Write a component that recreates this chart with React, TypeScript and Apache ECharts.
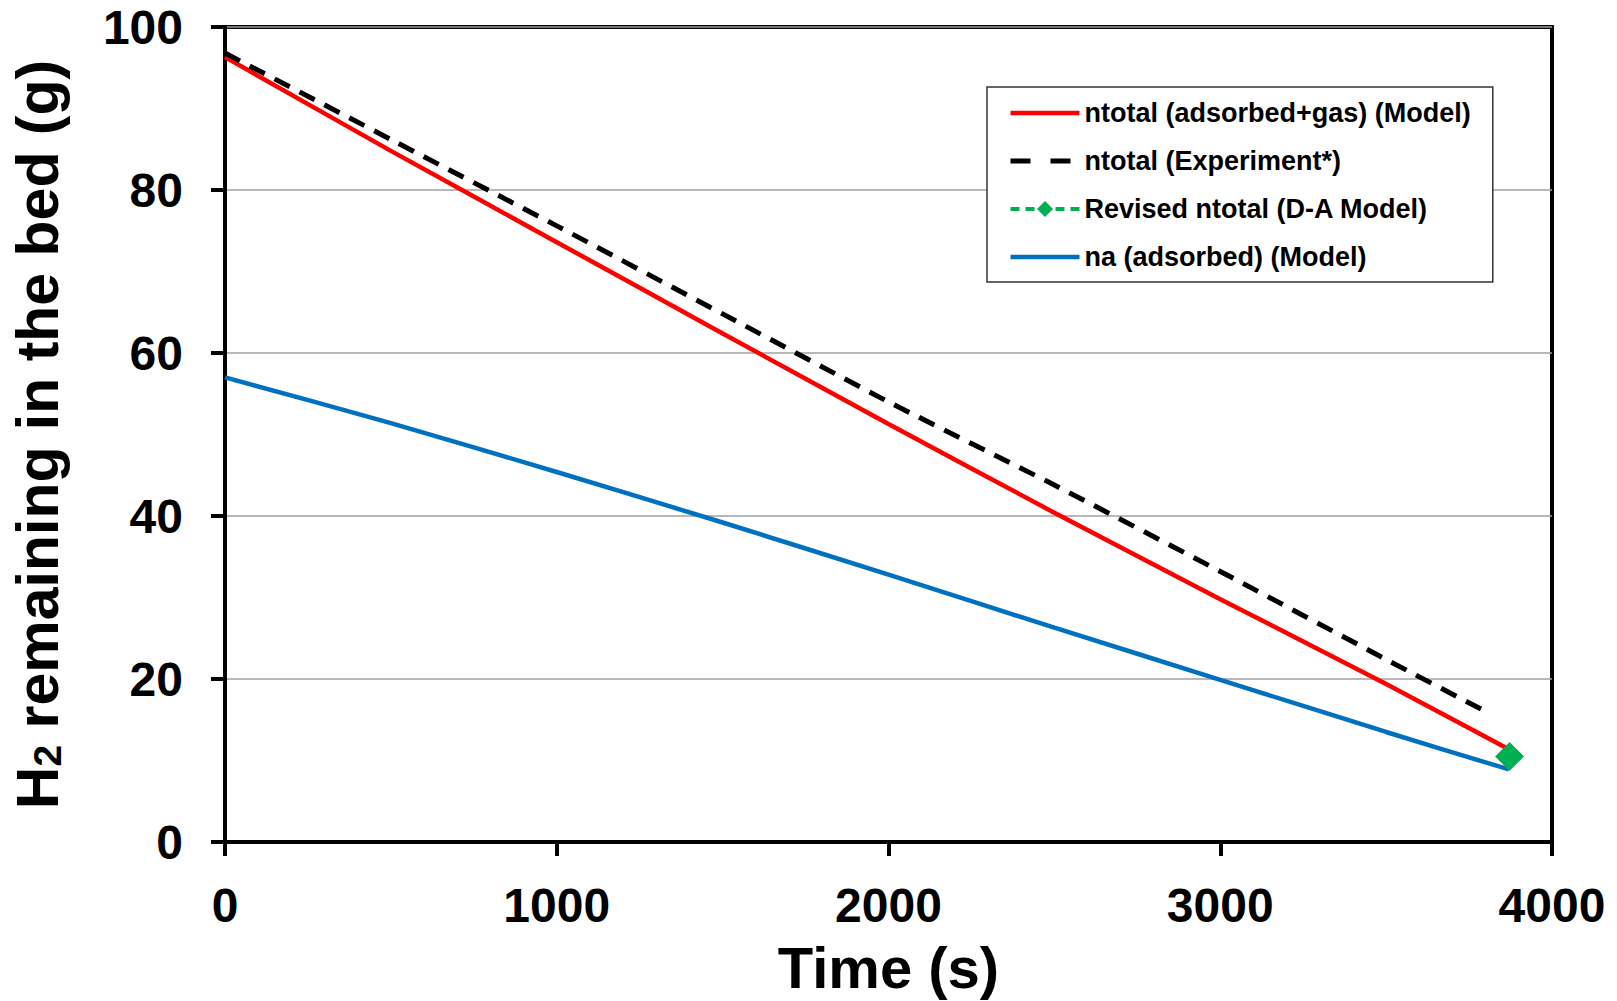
import React, { useEffect, useRef } from "react";
import * as echarts from "echarts";

// ---- data ----
const xTickValues = [0, 1000, 2000, 3000, 4000];
const yTickValues = [0, 20, 40, 60, 80, 100];

const seriesNames = [
  "ntotal (adsorbed+gas) (Model)",
  "ntotal (Experiment*)",
  "Revised ntotal (D-A Model)",
  "na (adsorbed) (Model)",
];

const totalModelTime = [0, 500, 1000, 1500, 2000, 2500, 3000, 3500, 3860];
const totalModelValues = [96.3, 84.8, 73.6, 62.4, 51.3, 40.4, 29.8, 19.4, 11.6];

const totalExpTime = [0, 500, 1000, 1500, 2000, 2500, 3000, 3500, 3810];
const totalExpValues = [96.8, 86.2, 75.6, 64.8, 54.0, 43.8, 33.2, 22.4, 15.8];

const revisedTime = [3872];
const revisedValues = [10.5];

const adsorbedTime = [0, 500, 1000, 1500, 2000, 2500, 3000, 3500, 3870];
const adsorbedValues = [57.0, 51.4, 45.4, 39.2, 32.8, 26.3, 19.9, 13.5, 8.9];

const FONT = "'Liberation Sans', Arial, Helvetica, sans-serif";

function pairs(xs: number[], ys: number[]) {
  return xs.map((x, i) => [x, ys[i]]);
}

export default function App() {
  const ref = useRef<HTMLDivElement>(null);

  useEffect(() => {
    document.body.style.margin = "0";
    const chart = echarts.init(ref.current!, null, { renderer: "svg" });

    const hiddenSymbol = { opacity: 0, borderWidth: 0 };

    chart.setOption({
      animation: false,
      backgroundColor: "#ffffff",
      textStyle: { fontFamily: FONT },
      grid: {
        left: 223,
        top: 27,
        right: 65,
        bottom: 157,
        show: true,
        borderColor: "#000",
        borderWidth: 4,
        backgroundColor: "transparent",
      },
      legend: {
        show: true,
        orient: "vertical",
        left: 987,
        top: 87,
        padding: [11, 22, 10, 21],
        itemWidth: 69,
        itemHeight: 20,
        itemGap: 18,
        borderColor: "#333",
        borderWidth: 1.5,
        backgroundColor: "#fff",
        selectedMode: false,
        textStyle: {
          fontFamily: FONT,
          fontSize: 27,
          fontWeight: "bold",
          color: "#000",
          lineHeight: 30,
        },
        data: [
          {
            name: seriesNames[0],
            itemStyle: hiddenSymbol,
            lineStyle: { width: 4.5, color: "#ff0000" },
          },
          {
            name: seriesNames[1],
            itemStyle: hiddenSymbol,
            lineStyle: { type: [20, 20], width: 5, color: "#000" },
          },
          {
            name: seriesNames[2],
            lineStyle: { type: [9, 6], width: 4, color: "#00b050" },
          },
          {
            name: seriesNames[3],
            itemStyle: hiddenSymbol,
            lineStyle: { width: 4.5, color: "#0070c0" },
          },
        ],
      },
      xAxis: {
        type: "value",
        min: xTickValues[0],
        max: xTickValues[xTickValues.length - 1],
        interval: 1000,
        name: "Time (s)",
        nameLocation: "middle",
        nameGap: 96,
        nameTextStyle: {
          fontFamily: FONT,
          fontSize: 58,
          fontWeight: "bold",
          color: "#000",
        },
        axisLine: { show: true, lineStyle: { color: "#000", width: 4 } },
        axisTick: {
          show: true,
          inside: false,
          length: 14,
          lineStyle: { color: "#000", width: 4 },
        },
        axisLabel: {
          margin: 39,
          fontFamily: FONT,
          fontSize: 48,
          fontWeight: "bold",
          color: "#000",
          formatter: (v: number) => String(v),
        },
        splitLine: { show: false },
      },
      yAxis: {
        type: "value",
        min: yTickValues[0],
        max: yTickValues[yTickValues.length - 1],
        interval: 20,
        name: "{a|H}{s|2}{a| remaining in the bed (g)}",
        nameLocation: "middle",
        nameGap: 158,
        nameRotate: 90,
        nameTextStyle: {
          fontFamily: FONT,
          fontSize: 59,
          fontWeight: "bold",
          color: "#000",
          rich: {
            a: {
              fontFamily: FONT,
              fontSize: 59,
              fontWeight: "bold",
              color: "#000",
              lineHeight: 59,
            },
            s: {
              fontFamily: FONT,
              fontSize: 39,
              fontWeight: "bold",
              color: "#000",
              lineHeight: 17,
              verticalAlign: "bottom",
            },
          },
        },
        axisLine: { show: true, lineStyle: { color: "#000", width: 4 } },
        axisTick: {
          show: true,
          inside: false,
          length: 14,
          lineStyle: { color: "#000", width: 4 },
        },
        axisLabel: {
          margin: 42,
          fontFamily: FONT,
          fontSize: 48,
          fontWeight: "bold",
          color: "#000",
          formatter: (v: number) => String(v),
        },
        splitLine: { show: true, lineStyle: { color: "#a0a0a0", width: 1.5 } },
      },
      series: [
        {
          name: seriesNames[0],
          type: "line",
          data: pairs(totalModelTime, totalModelValues),
          symbol: "none",
          showSymbol: false,
          smooth: 0.15,
          lineStyle: { color: "#ff0000", width: 4.5 },
          itemStyle: { color: "#ff0000" },
          z: 3,
        },
        {
          name: seriesNames[1],
          type: "line",
          data: pairs(totalExpTime, totalExpValues),
          symbol: "none",
          showSymbol: false,
          smooth: 0.15,
          lineStyle: { color: "#000000", width: 5, type: [17, 11], cap: "butt" },
          itemStyle: { color: "#000000" },
          z: 3,
        },
        {
          name: seriesNames[2],
          type: "line",
          data: pairs(revisedTime, revisedValues),
          symbol: "diamond",
          symbolSize: 29,
          showSymbol: true,
          lineStyle: { color: "#00b050", width: 4, type: [9, 6] },
          itemStyle: { color: "#00b050" },
          z: 5,
        },
        {
          name: seriesNames[3],
          type: "line",
          data: pairs(adsorbedTime, adsorbedValues),
          symbol: "none",
          showSymbol: false,
          smooth: 0.25,
          lineStyle: { color: "#0070c0", width: 4.5 },
          itemStyle: { color: "#0070c0" },
          z: 4,
        },
      ],
    });

    return () => {
      chart.dispose();
    };
  }, []);

  return (
    <div
      ref={ref}
      style={{ position: "absolute", left: 0, top: 0, width: 1617, height: 1001 }}
    />
  );
}
